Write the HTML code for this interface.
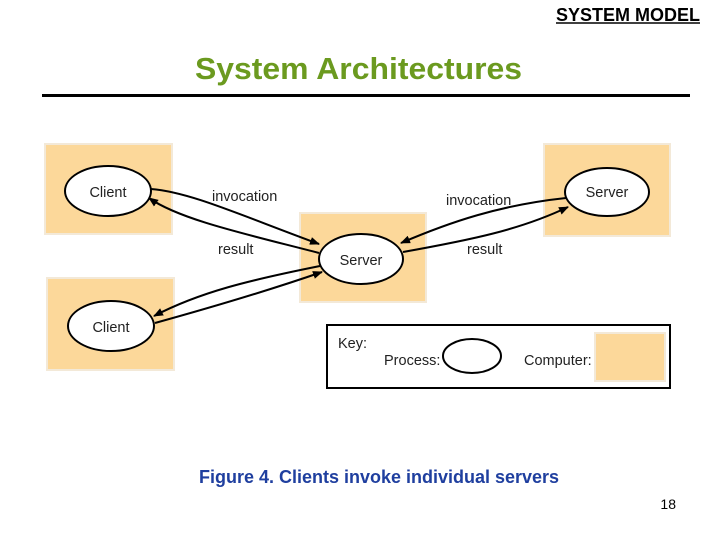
<!DOCTYPE html>
<html><head><style>
body{margin:0;width:720px;height:540px;background:#fff;overflow:hidden;font-family:"Liberation Sans",sans-serif;}
</style></head><body>
<svg width="720" height="540" xmlns="http://www.w3.org/2000/svg" style="position:absolute;left:0;top:0">
<defs><marker id="a" markerWidth="10" markerHeight="8" refX="9" refY="4" orient="auto" markerUnits="userSpaceOnUse"><path d="M0,0 L10,4 L0,8 z" fill="#000"/></marker></defs>
<text x="700" y="21" font-size="18" font-weight="bold" text-anchor="end" font-family="Liberation Sans" textLength="144" lengthAdjust="spacingAndGlyphs">SYSTEM MODEL</text>
<line x1="556" y1="23" x2="700" y2="23" stroke="#000" stroke-width="1.5"/>
<text x="195" y="79" font-size="31" font-weight="bold" fill="#6b9a1f" font-family="Liberation Sans" textLength="327" lengthAdjust="spacingAndGlyphs">System Architectures</text>
<rect x="42" y="94" width="648" height="3" fill="#000"/>
<rect x="327" y="325" width="343" height="63" fill="#fff" stroke="#000" stroke-width="2"/>
<g fill="#fcd89a" stroke="#f3e9d8" stroke-width="2">
<rect x="45" y="144" width="127" height="90"/>
<rect x="47" y="278" width="127" height="92"/>
<rect x="300" y="213" width="126" height="89"/>
<rect x="544" y="144" width="126" height="92"/>
<rect x="595" y="333" width="70" height="48"/>
</g>
<g fill="#fff" stroke="#000" stroke-width="2">
<ellipse cx="108" cy="191" rx="43" ry="25"/>
<ellipse cx="111" cy="326" rx="43" ry="25"/>
<ellipse cx="361" cy="259" rx="42" ry="25"/>
<ellipse cx="607" cy="192" rx="42" ry="24"/>
</g>
<g fill="none" stroke="#000" stroke-width="2">
<path d="M151,189 C190,192 240,215 319,244" marker-end="url(#a)"/>
<path d="M319,253 C250,235 180,220 149,198" marker-end="url(#a)"/>
<path d="M320,266 C250,280 200,292 154,316" marker-end="url(#a)"/>
<path d="M155,323 C220,305 270,290 322,272" marker-end="url(#a)"/>
<path d="M566,198 C500,205 450,222 401,243" marker-end="url(#a)"/>
<path d="M403,252 C470,240 520,230 568,207" marker-end="url(#a)"/>
</g>
<g font-size="14.5" font-family="Liberation Sans" fill="#222">
<text x="108" y="197" text-anchor="middle">Client</text>
<text x="111" y="332" text-anchor="middle">Client</text>
<text x="361" y="265" text-anchor="middle">Server</text>
<text x="607" y="197" text-anchor="middle">Server</text>
<text x="212" y="201">invocation</text>
<text x="218" y="254">result</text>
<text x="446" y="205">invocation</text>
<text x="467" y="254">result</text>
<text x="338" y="348">Key:</text>
<text x="384" y="365">Process:</text>
<text x="524" y="365">Computer:</text>
</g>
<ellipse cx="472" cy="356" rx="29" ry="17" fill="#fff" stroke="#000" stroke-width="2"/>
<text x="379" y="483" font-size="18" font-weight="bold" fill="#1f3f9f" text-anchor="middle" font-family="Liberation Sans" textLength="360" lengthAdjust="spacingAndGlyphs">Figure 4. Clients invoke individual servers</text>
<text x="676" y="509" font-size="14" text-anchor="end" font-family="Liberation Sans">18</text>
</svg>
</body></html>
